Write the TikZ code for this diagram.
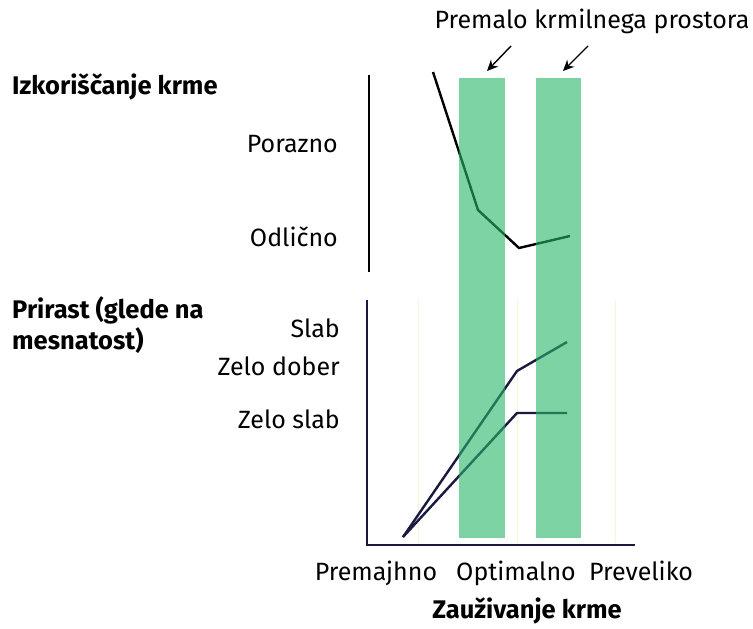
\documentclass[tikz,border=0pt]{standalone}
\usepackage{fontspec}
\setmainfont{Fira Sans}
\usetikzlibrary{arrows.meta}
\definecolor{navy}{RGB}{26,26,64}
\definecolor{barg}{RGB}{38,182,102}
\definecolor{faint}{RGB}{246,246,214}
\tikzset{
  lbl/.style={font=\fontsize{25}{29}\selectfont, inner sep=0pt},
  hdr/.style={font=\bfseries\fontsize{25.5}{31}\selectfont, inner sep=0pt, align=left},
  curve/.style={line width=2.4pt, line join=round},
  bar/.style={fill=barg, fill opacity=0.6, draw=none},
  guide/.style={draw=faint, line width=1pt},
  pointer/.style={-{Stealth[length=11pt,width=10pt]}, line width=1.4pt}
}
\begin{document}
\begin{tikzpicture}[x=1pt,y=-1pt]
\useasboundingbox (0,0) rectangle (753,629);
% faint guides
\draw[guide] (418,300) -- (418,543);
\draw[guide] (517,300) -- (517,543);
\draw[guide] (615,300) -- (615,543);
% axes
\draw[line width=2.6pt, black] (369,75) -- (369,272);
\draw[line width=2.8pt, navy] (367,300) -- (367,545) -- (635,545);
% curves
\draw[curve, black] (433,72) -- (478,210) -- (519,248) -- (570,236);
\coordinate (o) at (403,537);
\draw[curve, navy] (o) -- (517,371) -- (567,342);
\draw[curve, navy] (o) -- (517,413) -- (567,413);
% bars
\fill[bar] (459,78) rectangle (505,538);
\fill[bar] (536,78) rectangle (581,538);
% title and pointers
\node[lbl, anchor=base] (pk) at (592,28) {Premalo krmilnega prostora};
\coordinate (a1s) at (511,46); \coordinate (a1e) at (487,71);
\coordinate (a2s) at (588,46); \coordinate (a2e) at (563,71);
\draw[pointer] (a1s) -- (a1e);
\draw[pointer] (a2s) -- (a2e);
% left labels
\node[hdr, anchor=base west] (h1) at (12,94) {Izkoriščanje krme};
\node[lbl, anchor=base east] (p1) at (338,152) {Porazno};
\node[lbl, anchor=base east] (p2) at (338,246) {Odlično};
\node[hdr, anchor=north west] (h2) at (12,296) {Prirast (glede na\\mesnatost)};
\node[lbl, anchor=base east] (s1) at (340,337) {Slab};
\node[lbl, anchor=base east] (s2) at (340,375) {Zelo dober};
\node[lbl, anchor=base east] (s3) at (340,428) {Zelo slab};
% bottom labels
\node[lbl, anchor=base] (x1) at (376,580) {Premajhno};
\node[lbl, anchor=base] (x2) at (516,580) {Optimalno};
\node[lbl, anchor=base] (x3) at (641,580) {Preveliko};
\node[hdr, anchor=base] (xt) at (527,618) {Zauživanje krme};
\end{tikzpicture}
\end{document}
